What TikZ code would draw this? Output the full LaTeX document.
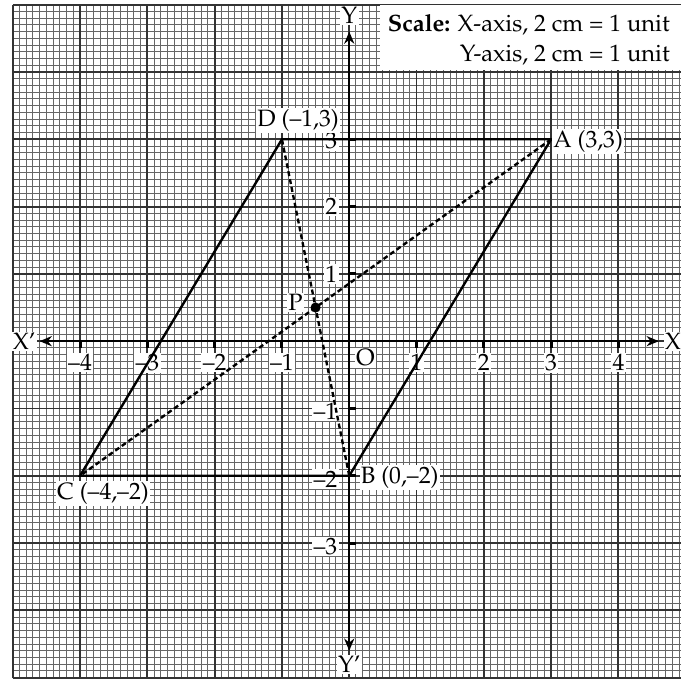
\documentclass[tikz,border=0pt]{standalone}
\usepackage[T1]{fontenc}
\usepackage{mathpazo}
\usetikzlibrary{arrows.meta}

\begin{document}
\begin{tikzpicture}[
      font=\fontsize{10}{12.8}\selectfont,
      minorgrid/.style={draw=black!60, line width=.4pt},
      majorgrid/.style={draw=black!80, line width=.8pt},
      axis/.style={draw=black, line width=1pt,
                   {Stealth[length=1.8mm,width=1.5mm]}-{Stealth[length=1.8mm,width=1.5mm]}},
      side/.style={draw=black, line width=1pt},
      diag/.style={draw=black, line width=1pt, dash pattern=on 2.1pt off 1.3pt},
      ticks/.style={draw=black, line width=1.3pt},
      lbl/.style={fill=white, inner sep=.6pt},
      dot/.style={circle, fill=black, inner sep=0pt, minimum size=1.5mm}
    ]
    \useasboundingbox (-5.19,-5.01) rectangle (4.93,5.07);
    \fill[white] (-5.19,-5.01) rectangle (4.93,5.07);

    % Graph paper.
    \draw[minorgrid] (-5,-5.01) grid[step=.1] (4.93,5);
    \draw[majorgrid] (-5,-5.01) grid[step=1] (4.93,5);

    % Scale note.
    \node[fill=white, anchor=north east, inner sep=0pt, minimum width=4.47cm,
          minimum height=.97cm] (scalebox) at (4.93,5) {};
    \node[anchor=east, inner sep=0pt, align=right] (scale) at (4.77,4.48)
      {\textbf{Scale:} X-axis, 2 cm = 1 unit\\Y-axis, 2 cm = 1 unit};

    % Axes.
    \coordinate (xw) at (-4.6,0);
    \coordinate (xe) at (4.6,0);
    \coordinate (ys) at (0,-4.6);
    \coordinate (yn) at (0,4.6);
    \draw[axis] (xw) -- (xe);
    \draw[axis] (ys) -- (yn);
    \node[lbl] (xneg) at (-4.83,0) {X\textquoteright};
    \node[lbl] (xpos) at (4.81,0) {X};
    \node[lbl] (ypos) at (0,4.84) {Y};
    \node[lbl] (yneg) at (0,-4.81) {Y\textquoteright};

    % Ticks.
    \draw[ticks] (-4,0) -- (-4,-.1) (-3,0) -- (-3,-.1) (-2,0) -- (-2,-.1)
      (-1,0) -- (-1,-.1) (1,0) -- (1,-.1) (2,0) -- (2,-.1) (3,0) -- (3,-.1)
      (4,0) -- (4,-.1);
    \draw[ticks] (0,3) -- (.1,3) (0,2) -- (.1,2) (0,1) -- (.1,1)
      (0,-1) -- (.1,-1) (0,-2) -- (.1,-2) (0,-3) -- (.1,-3);

    % Tick labels.
    \node[lbl] (xm4) at (-4,-.32) {--4};
    \node[lbl] (xm3) at (-3,-.32) {--3};
    \node[lbl] (xm2) at (-2,-.32) {--2};
    \node[lbl] (xm1) at (-1,-.32) {--1};
    \node[lbl] (orig) at (.24,-.25) {O};
    \node[lbl] (xp1) at (1,-.32) {1};
    \node[lbl] (xp2) at (2,-.32) {2};
    \node[lbl] (xp3) at (3,-.32) {3};
    \node[lbl] (xp4) at (4,-.32) {4};
    \node[lbl, anchor=east] (yp3) at (-.15,2.98) {3};
    \node[lbl, anchor=east] (yp2) at (-.15,2) {2};
    \node[lbl, anchor=east] (yp1) at (-.15,1) {1};
    \node[lbl, anchor=east] (ym1) at (-.15,-1.05) {--1};
    \node[lbl, anchor=east] (ym2) at (-.15,-2.05) {--2};
    \node[lbl, anchor=east] (ym3) at (-.15,-3.05) {--3};

    % Parallelogram ABCD and its diagonals.
    \coordinate (A) at (3,3);
    \coordinate (B) at (0,-2);
    \coordinate (C) at (-4,-2);
    \coordinate (D) at (-1,3);
    \draw[side] (A) -- (B) -- (C) -- (D) -- cycle;
    \draw[diag] (A) -- (C);
    \draw[diag] (B) -- (D);
    \node[dot] (P) at (-.5,.5) {};

    % Point labels.
    \node[lbl] (alab) at (3.55,2.97) {A (3,3)};
    \node[lbl] (blab) at (.75,-2.02) {B (0,--2)};
    \node[lbl] (clab) at (-3.66,-2.26) {C (--4,--2)};
    \node[lbl] (dlab) at (-.76,3.28) {D (--1,3)};
    \node[lbl] (plab) at (-.8,.57) {P};
  \end{tikzpicture}
\end{document}
